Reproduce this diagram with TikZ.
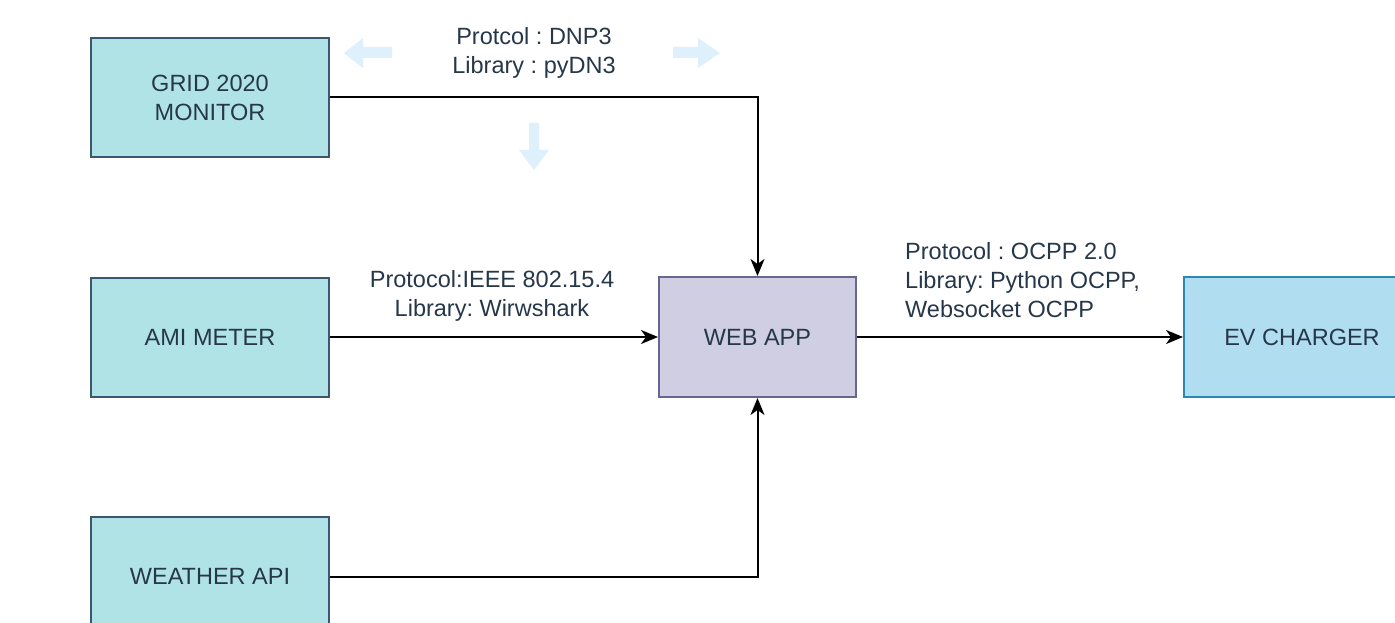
\documentclass[tikz,border=0pt]{standalone}
\usepackage{fontspec}
\setmainfont{Liberation Sans}
\frenchspacing
\usetikzlibrary{arrows.meta}
\definecolor{tealfill}{HTML}{B0E3E6}
\definecolor{tealline}{HTML}{3A5670}
\definecolor{purfill}{HTML}{D0CEE2}
\definecolor{purline}{HTML}{6A6590}
\definecolor{bluefill}{HTML}{B1DDF0}
\definecolor{blueline}{HTML}{2C88B0}
\definecolor{txt}{HTML}{27374A}
\definecolor{hint}{HTML}{DDF0FB}
\begin{document}
\begin{tikzpicture}[x=1pt,y=-1pt,
  every node/.style={font=\fontsize{23.5}{29}\selectfont, text=txt},
  box/.style={rectangle, draw, line width=2pt, minimum width=238pt,
    minimum height=119pt, inner sep=0pt, align=center},
  source/.style={box, fill=tealfill, draw=tealline},
  hub/.style={box, fill=purfill, draw=purline, minimum width=197pt, minimum height=120pt},
  target/.style={box, fill=bluefill, draw=blueline, minimum width=236pt, minimum height=120pt},
  conn/.style={draw=black, line width=2pt,
    -{Stealth[length=17pt, width=14pt, inset=5pt]}},
  lbl/.style={inner sep=0pt, align=center}]
  \clip (0,0) rectangle (1395,623);
  \fill[white] (0,0) rectangle (1395,623);

  % light direction hints
  \fill[hint] (344,53) -- (363,38) -- (363,47) -- (392,47) -- (392,58) -- (363,58) -- (363,68) -- cycle;
  \fill[hint] (720,53) -- (698,38) -- (698,47) -- (673,47) -- (673,58) -- (698,58) -- (698,68) -- cycle;
  \fill[hint] (534,170) -- (519,150) -- (529,150) -- (529,123) -- (539,123) -- (539,150) -- (549,150) -- cycle;

  % blocks
  \node[source] (grid) at (210,97.5) {GRID 2020\\MONITOR};
  \node[source] (ami) at (210,337) {AMI METER};
  \node[source] (weather) at (210,576.5) {WEATHER API};
  \node[hub] (web) at (757.5,337) {WEB APP};
  \node[target] (ev) at (1302,337) {EV CHARGER};

  % links
  \draw[conn] (grid.east) -| (web.north);
  \draw[conn] (ami.east) -- (web.west);
  \draw[conn] (weather.east) -| (web.south);
  \draw[conn] (web.east) -- (ev.west);

  % link labels
  \node[lbl] (dnp) at (534,53) {Protcol : DNP3\\Library : pyDN3};
  \node[lbl] (ieee) at (492,296) {Protocol:IEEE 802.15.4\\Library: Wirwshark};
  \node[lbl, align=left, anchor=west] (ocpp) at (905,280) {Protocol : OCPP 2.0\\Library: Python OCPP,\\Websocket OCPP};
\end{tikzpicture}
\end{document}
